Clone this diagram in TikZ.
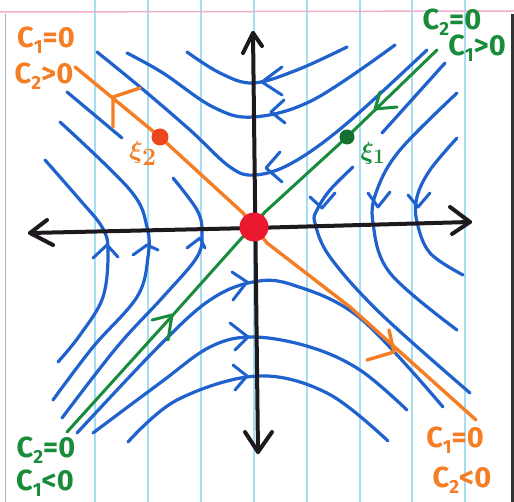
\documentclass[tikz,border=0pt]{standalone}
\usepackage{fontspec}
\setmainfont{Fira Sans}
\definecolor{myblue}{RGB}{32,98,205}
\definecolor{myorange}{RGB}{245,125,35}
\definecolor{mydot}{RGB}{235,70,30}
\definecolor{mygreen}{RGB}{25,140,60}
\definecolor{myred}{RGB}{235,25,45}
\definecolor{myblack}{RGB}{30,25,30}
\definecolor{paper}{RGB}{165,222,242}
\definecolor{pinkline}{RGB}{240,175,205}
\newcommand{\sbs}[1]{\raisebox{-0.4ex}{\fontsize{19}{19}\selectfont #1}}
\tikzset{
  traj/.style={draw=myblue, line width=3.2pt, line cap=round, line join=round},
  chevb/.style={draw=myblue, line width=3pt, line cap=round, line join=round},
  axis/.style={draw=myblack, line width=4pt, line cap=round, line join=round},
  orangeln/.style={draw=myorange, line width=3.4pt, line cap=round, line join=round},
  greenln/.style={draw=mygreen, line width=3pt, line cap=round, line join=round},
  paperln/.style={draw=paper, line width=1.3pt},
  lab/.style={font=\fontsize{29}{29}\selectfont\bfseries, inner sep=0pt},
}
\begin{document}
\begin{tikzpicture}[x=1pt,y=-1pt]
\useasboundingbox (0,0) rectangle (514,502);
\fill[white] (0,0) rectangle (514,502);
% notebook paper
\foreach \x in {95,148,201,254,307,360,412,465} \draw[paperln] (\x,0) -- (\x,502);
\draw[draw=pinkline, line width=1.5pt] (0,12) -- (514,11);
\draw[draw=gray!60, line width=1pt] (5,14) -- (5,502);
\draw[draw=black!80, line width=3pt] (512.5,14) -- (512.5,502);

% ---- blue trajectories: top region
\draw[traj] plot[smooth, tension=0.6] coordinates {(187,52) (220,73) (253,83) (297,70) (347,47)};
\draw[traj] plot[smooth, tension=0.6] coordinates {(127,53) (163,73) (213,107) (253,117) (313,100) (395,45)};
\draw[traj] plot[smooth, tension=0.6] coordinates {(97,52) (140,87) (190,130) (230,167) (255,175) (292,163) (345,125) (427,50)};
\draw[chevb] (282,67) -- (262,82) -- (282,95);
\draw[chevb] (284,100) -- (271,112) -- (285,123);
\draw[chevb] (280,152) -- (266,168) -- (282,182);

% ---- right region
\draw[traj] (445,63) -- (382,133);
\draw[traj] plot[smooth, tension=0.6] coordinates {(353,167) (330,190) (317,210) (315,223) (330,257) (380,313) (470,393)};
\draw[traj] plot[smooth, tension=0.6] coordinates {(457,93) (400,150) (377,190) (373,223) (390,273) (457,330)};
\draw[traj] plot[smooth, tension=0.6] coordinates {(457,138) (430,170) (417,197) (417,222) (430,253) (463,275)};
\draw[chevb] (310,197) -- (322,208) -- (335,193);
\draw[chevb] (368,193) -- (378,207) -- (390,192);
\draw[chevb] (408,195) -- (418,207) -- (430,193);

% ---- left region
\draw[traj] (67,92) -- (122,138);
\draw[traj] plot[smooth, tension=0.6] coordinates {(45,160) (80,200) (102,227) (108,250) (103,297) (80,335) (58,362)};
\draw[traj] plot[smooth, tension=0.6] coordinates {(60,122) (130,190) (147,227) (148,257) (137,297) (93,347) (53,400)};
\draw[traj] plot[smooth, tension=0.6] coordinates {(173,178) (197,210) (202,232) (197,257) (163,297) (117,347) (62,418)};
\draw[chevb] (93,258) -- (107,245) -- (118,257);
\draw[chevb] (133,255) -- (147,245) -- (158,250);
\draw[chevb] (187,248) -- (200,238) -- (205,248);

% ---- bottom region
\draw[traj] plot[smooth, tension=0.6] coordinates {(77,433) (160,345) (210,300) (253,282) (293,285) (360,318) (443,407)};
\draw[traj] plot[smooth, tension=0.6] coordinates {(93,433) (160,383) (210,347) (253,337) (310,347) (360,370) (407,410)};
\draw[traj] plot[smooth, tension=0.6] coordinates {(128,442) (177,400) (257,376) (327,393) (388,441)};
\draw[chevb] (232,272) -- (247,282) -- (233,300);
\draw[chevb] (230,323) -- (248,337) -- (235,350);
\draw[chevb] (233,365) -- (247,376) -- (235,390);

% ---- axes
\draw[axis] (30,233) -- (253,228) -- (470,222);
\draw[axis] (253,33) -- (258,452);
\draw[axis] (47,220) -- (30,233) -- (53,245);
\draw[axis] (450,207) -- (470,222) -- (452,234);
\draw[axis] (243,53) -- (253,33) -- (262,46);
\draw[axis] (245,432) -- (258,452) -- (272,432);

% ---- eigenvector lines
\draw[orangeln] (75,67) -- (160,137) -- (243,213) -- (267,243) -- (350,307) -- (476,420);
\draw[orangeln] (140,88) -- (113,97) -- (113,127);
\draw[orangeln] (389,330) -- (394,352) -- (367,360);
\draw[greenln] (67,432) -- (172,316) -- (265,212) -- (347,137) -- (437,50);
\draw[greenln] (397,107) -- (375,109) -- (380,92);
\draw[greenln] (152,320) -- (172,315) -- (168,340);

% ---- dots
\fill[myred] (254,227) circle (14.5);
\fill[mygreen!80!black] (347,137) circle (7.5);
\fill[mydot] (160,137) circle (8.5);

% ---- labels
\node[lab, text=myorange] (c1tl) at (46,40) {C\sbs{1}=0};
\node[lab, text=myorange] (c2tl) at (44,76) {C\sbs{2}>0};
\node[lab, text=mygreen] (c2tr) at (452,22) {C\sbs{2}=0};
\node[lab, text=mygreen] (c1tr) at (477,48) {C\sbs{1}>0};
\node[lab, text=mygreen] (c2bl) at (46,450) {C\sbs{2}=0};
\node[lab, text=mygreen] (c1bl) at (45,483) {C\sbs{1}<0};
\node[lab, text=myorange] (c1br) at (455,440) {C\sbs{1}=0};
\node[lab, text=myorange] (c2br) at (462,480) {C\sbs{2}<0};
\node[text=myorange, font=\fontsize{34}{34}\selectfont\boldmath, inner sep=0pt] (xi2) at (143,153) {$\xi_2$};
\node[text=mygreen, font=\fontsize{32}{32}\selectfont\boldmath, inner sep=0pt] (xi1) at (373,153) {$\xi_1$};
\end{tikzpicture}
\end{document}
